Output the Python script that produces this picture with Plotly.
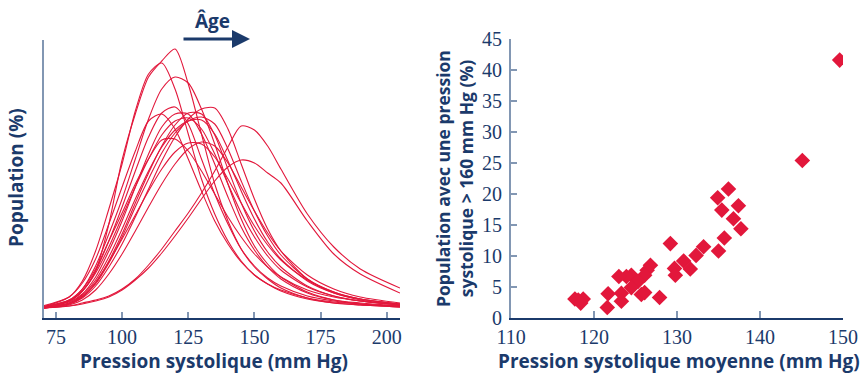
import plotly.graph_objects as go

# ---------------- Left panel: distributions (arbitrary % units) ----------------
bp_grid = [70, 80, 85, 90, 95, 100, 105, 110, 115, 120, 125, 130, 135, 140, 145,
           150, 155, 160, 170, 180, 190, 205]

curve_01 = [0.2, 0.8, 1.8, 3.8, 8.5, 14.9, 19.5, 23.2, 24.8, 26.0, 22.5, 17.5, 12.5, 8.8, 6.0, 4.2, 3.0, 2.1, 1.1, 0.6, 0.4, 0.2]
curve_02 = [0.2, 1.2, 2.8, 5.8, 10.0, 14.5, 19.8, 23.5, 24.6, 22.0, 17.5, 13.0, 9.5, 6.8, 4.8, 3.4, 2.5, 1.8, 1.0, 0.6, 0.4, 0.2]
curve_03 = [0.2, 0.9, 2.0, 4.3, 7.5, 11.0, 15.0, 19.0, 22.0, 23.2, 22.6, 20.0, 16.5, 12.5, 9.0, 6.3, 4.5, 3.2, 1.7, 0.9, 0.5, 0.2]
curve_04 = [0.2, 0.8, 1.8, 3.8, 6.8, 10.2, 13.8, 17.2, 19.6, 20.2, 18.5, 15.0, 11.5, 8.5, 6.0, 4.3, 3.1, 2.3, 1.3, 0.8, 0.5, 0.3]
curve_05 = [0.3, 1.2, 2.6, 5.0, 8.5, 12.2, 15.8, 18.8, 19.5, 18.0, 15.0, 11.8, 8.8, 6.5, 4.7, 3.4, 2.5, 1.9, 1.1, 0.7, 0.5, 0.3]
curve_06 = [0.2, 0.7, 1.5, 3.2, 5.8, 8.8, 12.2, 15.5, 18.2, 19.5, 19.5, 17.5, 14.5, 11.2, 8.2, 5.9, 4.2, 3.0, 1.6, 0.9, 0.6, 0.3]
curve_07 = [0.1, 0.5, 1.1, 2.3, 4.2, 6.5, 9.2, 12.0, 14.8, 17.2, 19.0, 20.0, 20.1, 18.0, 14.5, 11.0, 8.0, 5.8, 3.0, 1.6, 0.9, 0.4]
curve_08 = [0.1, 0.5, 1.2, 2.5, 4.6, 7.2, 10.2, 13.0, 15.6, 17.6, 18.8, 19.2, 18.5, 16.0, 12.8, 9.8, 7.3, 5.4, 3.0, 1.7, 1.0, 0.5]
curve_09 = [0.2, 0.6, 1.4, 2.9, 5.2, 8.0, 11.0, 13.8, 16.2, 17.9, 18.8, 18.9, 17.5, 14.8, 11.8, 9.0, 6.7, 5.0, 2.8, 1.6, 1.0, 0.5]
curve_10 = [0.2, 0.8, 1.8, 3.6, 6.2, 9.2, 12.2, 15.0, 17.4, 18.8, 19.1, 18.0, 15.5, 12.5, 9.6, 7.2, 5.3, 3.9, 2.2, 1.3, 0.8, 0.4]
curve_11 = [0.1, 0.3, 0.6, 0.9, 1.3, 2.0, 3.0, 4.4, 6.0, 7.8, 9.6, 11.6, 13.8, 16.2, 18.3, 17.9, 16.3, 14.0, 9.5, 6.2, 4.0, 2.1]
curve_12 = [0.1, 0.3, 0.5, 0.8, 1.2, 1.9, 2.9, 4.1, 5.6, 7.3, 9.1, 11.0, 12.8, 14.2, 14.9, 14.6, 13.6, 12.6, 8.8, 5.5, 3.5, 1.6]
curve_13 = [0.2, 0.9, 2.0, 4.0, 6.8, 9.6, 12.5, 15.0, 16.9, 17.0, 15.8, 13.8, 11.5, 9.2, 7.2, 5.5, 4.2, 3.2, 1.9, 1.2, 0.8, 0.4]
curve_14 = [0.2, 0.6, 1.3, 2.7, 4.7, 7.0, 9.4, 11.8, 14.0, 15.7, 16.6, 16.5, 15.2, 13.0, 10.6, 8.3, 6.4, 4.9, 2.9, 1.7, 1.0, 0.5]
curve_15 = [0.1, 0.4, 0.9, 1.9, 3.5, 5.5, 7.8, 10.2, 12.5, 14.5, 16.0, 16.7, 16.3, 14.6, 12.2, 9.8, 7.6, 5.8, 3.4, 2.0, 1.2, 0.6]
curve_16 = [0.1, 0.5, 1.2, 2.6, 4.8, 7.5, 10.6, 13.6, 16.3, 18.4, 19.6, 19.5, 17.4, 14.0, 10.6, 7.8, 5.7, 4.2, 2.3, 1.3, 0.8, 0.4]

curves = [curve_01, curve_02, curve_03, curve_04, curve_05, curve_06, curve_07, curve_08,
          curve_09, curve_10, curve_11, curve_12, curve_13, curve_14, curve_15, curve_16]

left_ticks = [75, 100, 125, 150, 175, 200]

# ---------------- Right panel: scatter ----------------
mean_sbp = [149.6, 145.1, 136.2, 134.9, 137.4, 135.4, 136.8, 137.7, 135.7, 135.0,
            133.2, 132.3, 129.2, 130.8, 131.6, 129.7, 129.8, 126.8, 126.4, 126.1,
            124.5, 123.9, 123.0, 125.3, 124.5, 125.7, 126.1, 127.9, 123.3, 123.3,
            121.7, 121.6, 118.1, 118.7, 117.7, 118.4]
pct_over_160 = [41.6, 25.4, 20.8, 19.4, 18.1, 17.4, 16.0, 14.4, 12.9, 10.8,
                11.5, 10.1, 12.0, 9.2, 7.9, 8.0, 6.9, 8.5, 7.7, 6.9,
                6.9, 6.7, 6.7, 5.9, 4.9, 3.8, 4.1, 3.3, 4.0, 2.7,
                3.9, 1.7, 2.9, 3.06, 3.06, 2.4]

right_xticks = [110, 120, 130, 140, 150]
right_yticks = [0, 5, 10, 15, 20, 25, 30, 35, 40, 45]

NAVY = "#1b3a6b"
AXIS_LIGHT = "#8297b3"
RED = "#e2173b"
TICK_FONT = dict(family="Liberation Sans Narrow", size=20, color=NAVY)
TITLE_FAMILY = "Open Sans"

W, H = 865, 375


def px(xp):
    return xp / W


def py(yp):
    return 1 - yp / H


fig = go.Figure()

for c in curves:
    fig.add_trace(go.Scatter(x=bp_grid, y=c, mode="lines",
                             line=dict(color=RED, width=1.1, shape="spline", smoothing=0.8),
                             xaxis="x", yaxis="y", showlegend=False, hoverinfo="skip"))

fig.add_trace(go.Scatter(x=mean_sbp, y=pct_over_160, mode="markers",
                         marker=dict(symbol="diamond", size=12, color=RED),
                         xaxis="x2", yaxis="y2", showlegend=False))

common_x = dict(showgrid=False, zeroline=False, showline=True, linecolor=NAVY, linewidth=2,
                ticks="inside", tickwidth=2, tickcolor=AXIS_LIGHT, tickfont=TICK_FONT,
                automargin=False, fixedrange=True)

fig.update_layout(
    width=W, height=H,
    margin=dict(l=0, r=0, t=0, b=0, autoexpand=False),
    paper_bgcolor="white", plot_bgcolor="white",
    xaxis=dict(domain=[px(44), px(400)], range=[70.5, 205], tickvals=left_ticks,
               ticklen=6, anchor="y", **common_x),
    yaxis=dict(domain=[py(318), py(40)], range=[-0.9, 26.9],
               showgrid=False, zeroline=False, showline=True, linecolor=AXIS_LIGHT, linewidth=2,
               showticklabels=False, ticks="", automargin=False, anchor="x"),
    xaxis2=dict(domain=[px(511), px(843)], range=[110, 150], tickvals=right_xticks,
                ticklen=7, anchor="y2", **common_x),
    yaxis2=dict(domain=[py(318), py(39)], range=[0, 45], tickvals=right_yticks,
                showgrid=False, zeroline=False, showline=True, linecolor=AXIS_LIGHT, linewidth=2,
                ticks="inside", ticklen=6, tickwidth=2, tickcolor=AXIS_LIGHT,
                tickfont=TICK_FONT, ticklabelstandoff=3, automargin=False, anchor="x2"),
    annotations=[
        dict(text="<b>Pression systolique (mm Hg)</b>", x=px(214), y=py(361),
             xref="paper", yref="paper", xanchor="center", yanchor="middle",
             showarrow=False, font=dict(family=TITLE_FAMILY, size=19, color=NAVY)),
        dict(text="<b>Population (%)</b>", x=px(16), y=py(178), textangle=-90,
             xref="paper", yref="paper", xanchor="center", yanchor="middle",
             showarrow=False, font=dict(family=TITLE_FAMILY, size=19, color=NAVY)),
        dict(text="<b>Pression systolique moyenne (mm Hg)</b>", x=px(679), y=py(361),
             xref="paper", yref="paper", xanchor="center", yanchor="middle",
             showarrow=False, font=dict(family=TITLE_FAMILY, size=19, color=NAVY)),
        dict(text="<b>Population avec une pression<br>systolique > 160 mm Hg (%)</b>",
             x=px(454), y=py(178), textangle=-90,
             xref="paper", yref="paper", xanchor="center", yanchor="middle",
             showarrow=False, font=dict(family=TITLE_FAMILY, size=17.5, color=NAVY)),
        dict(text="<b>Âge</b>", x=px(212), y=py(21), xref="paper", yref="paper",
             xanchor="center", yanchor="middle",
             showarrow=False, font=dict(family=TITLE_FAMILY, size=19, color=NAVY)),
        dict(text="", x=px(250), y=py(39), xref="paper", yref="paper",
             showarrow=True, ax=-68, ay=0, arrowhead=2, arrowsize=1.2, arrowwidth=3,
             arrowcolor=NAVY),
    ],
)

fig.write_html("out.html")
